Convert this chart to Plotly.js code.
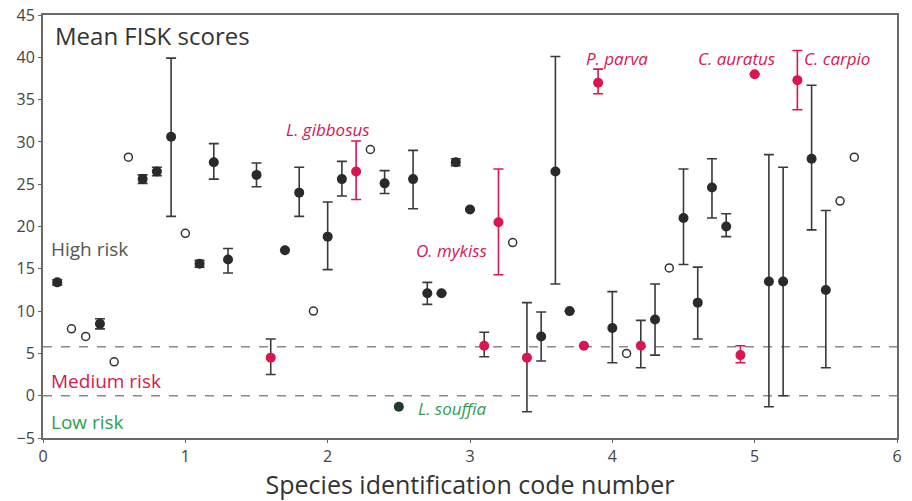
<!DOCTYPE html>
<html>
<head>
<meta charset="utf-8">
<script src="https://cdn.plot.ly/plotly-3.0.1.min.js"></script>
<style>html,body{margin:0;padding:0;background:#fff;}#chart{width:912px;height:501px;}</style>
</head>
<body>
<div id="chart"></div>
<script>
// Black filled: species with mean FISK score and error ranges
const blackX     = [0.1, 0.4, 0.7, 0.8, 0.9, 1.1, 1.2, 1.3, 1.5, 1.7, 1.8, 2.0, 2.1, 2.4, 2.6, 2.7, 2.8, 2.9, 3.0, 3.5, 3.6, 3.7, 4.0, 4.3, 4.5, 4.6, 4.7, 4.8, 5.1, 5.2, 5.4, 5.5];
const blackY     = [13.4, 8.5, 25.6, 26.5, 30.6, 15.6, 27.6, 16.1, 26.1, 17.2, 24.0, 18.8, 25.6, 25.1, 25.6, 12.1, 12.1, 27.6, 22.0, 7.0, 26.5, 10.0, 8.0, 9.0, 21.0, 11.0, 24.6, 20.0, 13.5, 13.5, 28.0, 12.5];
const blackPlus  = [0.3, 0.6, 0.5, 0.5, 9.3, 0.4, 2.2, 1.3, 1.4, null, 3.0, 4.1, 2.1, 1.5, 3.4, 1.3, null, 0.4, null, 2.9, 13.6, null, 4.3, 4.2, 5.8, 4.2, 3.4, 1.5, 15.0, 13.5, 8.7, 9.4];
const blackMinus = [0.3, 0.6, 0.5, 0.5, 9.4, 0.4, 2.0, 1.6, 1.4, null, 2.8, 3.9, 2.0, 1.2, 3.5, 1.3, null, 0.4, null, 2.9, 13.3, null, 4.1, 4.2, 5.5, 4.3, 3.6, 1.2, 14.8, 13.5, 8.4, 9.2];

// Open circles
const openX = [0.2, 0.3, 0.5, 0.6, 1.0, 1.9, 2.3, 3.3, 4.1, 4.4, 5.6, 5.7];
const openY = [7.9, 7.0, 4.0, 28.2, 19.2, 10.0, 29.1, 18.1, 5.0, 15.1, 23.0, 28.2];

// Red with red error bars
const redAX     = [2.2, 3.2, 3.9, 4.9, 5.3];
const redAY     = [26.5, 20.5, 37.0, 4.8, 37.3];
const redAPlus  = [3.6, 6.3, 1.6, 1.1, 3.5];
const redAMinus = [3.3, 6.2, 1.3, 0.9, 3.5];

// Red with dark error bars
const redBX     = [1.6, 3.1, 3.4, 3.8, 4.2, 5.0];
const redBY     = [4.5, 5.9, 4.5, 5.9, 5.9, 38.0];
const redBPlus  = [2.2, 1.6, 6.5, null, 3.0, null];
const redBMinus = [2.0, 1.3, 6.4, null, 2.6, null];

// Low risk species
const greenX = [2.5];
const greenY = [-1.3];

// Thresholds
const thresholds = [5.8, 0];

// Text labels
const speciesLabels = [
  {text: 'L. gibbosus', x: 2.0, y: 31.5, color: 'red'},
  {text: 'O. mykiss', x: 2.87, y: 17.2, color: 'red'},
  {text: 'P. parva', x: 4.03, y: 39.8, color: 'red'},
  {text: 'C. auratus', x: 4.87, y: 39.8, color: 'red'},
  {text: 'C. carpio', x: 5.58, y: 39.8, color: 'red'},
  {text: 'L. souffia', x: 2.87, y: -1.5, color: 'green'}
];
const riskLabels = [
  {text: 'High risk', y: 17.3, color: 'gray'},
  {text: 'Medium risk', y: 1.7, color: 'red'},
  {text: 'Low risk', y: -3.1, color: 'green'}
];

const RED = '#d9164f';
const GREEN = '#2f9e4e';
const DARK = '#2a2a2a';
const ERR = '#3a3a3a';
const colorMap = {red: RED, green: GREEN, gray: '#555555'};

const errCfg = (p, m, c) => ({type: 'data', symmetric: false, array: p, arrayminus: m, color: c, thickness: 1.6, width: 5});

const traces = [
  {x: blackX, y: blackY, type: 'scatter', mode: 'markers',
   marker: {color: DARK, size: 10}, error_y: errCfg(blackPlus, blackMinus, ERR)},
  {x: openX, y: openY, type: 'scatter', mode: 'markers',
   marker: {color: '#ffffff', size: 8, symbol: 'circle', line: {color: '#333', width: 1.5}}},
  {x: redAX, y: redAY, type: 'scatter', mode: 'markers',
   marker: {color: RED, size: 10}, error_y: errCfg(redAPlus, redAMinus, RED)},
  {x: redBX, y: redBY, type: 'scatter', mode: 'markers',
   marker: {color: RED, size: 10}, error_y: errCfg(redBPlus, redBMinus, ERR)},
  {x: greenX, y: greenY, type: 'scatter', mode: 'markers',
   marker: {color: '#233a2b', size: 10}}
];

const annotations = [];
annotations.push({text: 'Mean FISK scores', x: 0.07, y: 42.6, xref: 'x', yref: 'y', xanchor: 'left', yanchor: 'middle',
  showarrow: false, font: {family: 'Open Sans, sans-serif', size: 24, color: '#333'}});
riskLabels.forEach(r => annotations.push({text: r.text, x: 0.04, y: r.y, xref: 'x', yref: 'y', xanchor: 'left', yanchor: 'middle',
  showarrow: false, font: {family: 'Open Sans, sans-serif', size: 19, color: colorMap[r.color]}}));
speciesLabels.forEach(s => annotations.push({text: '<i>' + s.text + '</i>', x: s.x, y: s.y, xref: 'x', yref: 'y', xanchor: 'center', yanchor: 'middle',
  showarrow: false, font: {family: 'Open Sans, sans-serif', size: 17, color: colorMap[s.color]}}));

const shapes = thresholds.map(t => ({type: 'line', xref: 'paper', x0: 0, x1: 1, yref: 'y', y0: t, y1: t,
  line: {color: '#8a8a8a', width: 1.5, dash: 'dash'}, layer: 'below'}));

const layout = {
  width: 912, height: 501,
  margin: {l: 43, r: 15, t: 15, b: 63},
  paper_bgcolor: '#ffffff', plot_bgcolor: '#ffffff',
  showlegend: false,
  font: {family: 'Open Sans, sans-serif', color: '#444'},
  xaxis: {range: [0, 6], tickvals: [0, 1, 2, 3, 4, 5, 6], showgrid: false, zeroline: false,
    showline: true, mirror: true, linecolor: '#6a6a6a', linewidth: 2,
    ticks: 'outside', ticklen: 3, tickcolor: '#666', tickfont: {size: 16, color: '#444'},
    title: {text: 'Species identification code number', font: {size: 25, color: '#333'}, standoff: 5}},
  yaxis: {range: [-5, 45], tickvals: [-5, 0, 5, 10, 15, 20, 25, 30, 35, 40, 45], showgrid: false, zeroline: false,
    showline: true, mirror: true, linecolor: '#6a6a6a', linewidth: 2,
    ticks: 'outside', ticklen: 3, tickcolor: '#666', tickfont: {size: 16, color: '#444'}},
  shapes: shapes,
  annotations: annotations
};

Plotly.newPlot('chart', traces, layout, {displayModeBar: false, staticPlot: true});
</script>
</body>
</html>
